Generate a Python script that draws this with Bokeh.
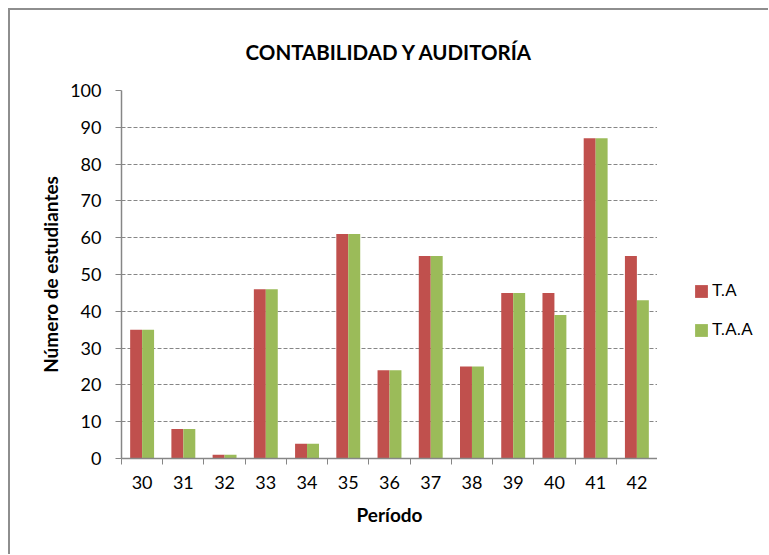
from bokeh.plotting import figure
from bokeh.layouts import row
from bokeh.models import ColumnDataSource, FixedTicker, Range1d, Legend, LegendItem
from bokeh.transform import dodge
from bokeh.embed import file_html
from bokeh.resources import INLINE

periodos = [30, 31, 32, 33, 34, 35, 36, 37, 38, 39, 40, 41, 42]
ta = [35, 8, 1, 46, 4, 61, 24, 55, 25, 45, 45, 87, 55]
taa = [35, 8, 1, 46, 4, 61, 24, 55, 25, 45, 39, 87, 43]
y_ticks = [0, 10, 20, 30, 40, 50, 60, 70, 80, 90, 100]
series_names = ["T.A", "T.A.A"]
series_colors = ["#C0504D", "#9BBB59"]

source = ColumnDataSource(data=dict(periodo=periodos, ta=ta, taa=taa))

FONT = "Lato"
AXIS_GRAY = "#868686"

p = figure(width=647, height=544, output_backend="svg", toolbar_location=None,
           x_range=Range1d(29.5, 42.5), y_range=Range1d(0, 100),
           min_border_left=111, min_border_right=0, min_border_top=80, min_border_bottom=96)
p.outline_line_color = None
p.background_fill_color = "white"

bw = 0.29
r1 = p.vbar(x=dodge("periodo", -bw / 2, range=p.x_range), top="ta", width=bw, source=source,
            fill_color=series_colors[0], line_color=None)
r2 = p.vbar(x=dodge("periodo", bw / 2, range=p.x_range), top="taa", width=bw, source=source,
            fill_color=series_colors[1], line_color=None)

# title
p.title.text = "CONTABILIDAD Y AUDITORÍA"
p.title.align = "center"
p.title.text_font = FONT
p.title.text_font_size = "20.5px"
p.title.text_font_style = "bold"
p.title.text_color = "black"
p.title.standoff = 54

# x axis
xa = p.below[0]
xa.ticker = FixedTicker(ticks=periodos, minor_ticks=[v - 0.5 for v in periodos] + [periodos[-1] + 0.5])
xa.major_tick_out = 0
xa.major_tick_in = 0
xa.minor_tick_out = 6
xa.minor_tick_in = 0
xa.minor_tick_line_color = AXIS_GRAY
xa.axis_line_color = AXIS_GRAY
xa.axis_line_width = 1.5
xa.major_label_text_font = FONT
xa.major_label_text_font_size = "18px"
xa.major_label_text_color = "black"
xa.major_label_standoff = 11
xa.axis_label = "Período"
xa.axis_label_text_font = FONT
xa.axis_label_text_font_size = "19px"
xa.axis_label_text_font_style = "bold"
xa.axis_label_text_color = "black"
xa.axis_label_standoff = 11

# y axis
ya = p.left[0]
ya.ticker = FixedTicker(ticks=y_ticks)
ya.minor_tick_line_color = None
ya.major_tick_out = 6
ya.major_tick_in = 0
ya.major_tick_line_color = AXIS_GRAY
ya.axis_line_color = AXIS_GRAY
ya.axis_line_width = 1.5
ya.major_label_text_font = FONT
ya.major_label_text_font_size = "18px"
ya.major_label_text_color = "black"
ya.major_label_standoff = 14
ya.axis_label = "Número de estudiantes"
ya.axis_label_text_font = FONT
ya.axis_label_text_font_size = "19px"
ya.axis_label_text_font_style = "bold"
ya.axis_label_text_color = "black"
ya.axis_label_standoff = 5

p.xgrid.grid_line_color = None
p.ygrid.ticker = FixedTicker(ticks=y_ticks[1:])
p.ygrid.grid_line_color = AXIS_GRAY
p.ygrid.grid_line_dash = "4 2"
p.ygrid.grid_line_width = 1

# legend panel (separate figure to the right of the plot area; its frame aligns with p's)
q = figure(width=111, height=544, output_backend="svg", toolbar_location=None,
           x_range=Range1d(0, 1), y_range=Range1d(0, 1),
           x_axis_location=None, y_axis_location=None,
           min_border_left=0, min_border_right=0, min_border_top=0, min_border_bottom=0)
q.outline_line_color = None
q.xgrid.grid_line_color = None
q.ygrid.grid_line_color = None
# legend proxies: same data, but outside this panel's visible range
lr1 = q.vbar(x="periodo", top="ta", width=bw, source=source, fill_color=series_colors[0], line_color=None)
lr2 = q.vbar(x="periodo", top="taa", width=bw, source=source, fill_color=series_colors[1], line_color=None)

legend = Legend(items=[LegendItem(label=series_names[0], renderers=[lr1]),
                       LegendItem(label=series_names[1], renderers=[lr2])],
                location=(36, 118))
legend.border_line_color = None
legend.background_fill_alpha = 0
legend.padding = 0
legend.margin = 0
legend.glyph_width = 16
legend.glyph_height = 16
legend.label_height = 16
legend.label_standoff = 3
legend.spacing = 19
legend.label_text_font = "Liberation Sans"
legend.label_text_font_size = "17px"
legend.label_text_color = "black"
q.add_layout(legend, "center")

layout = row(p, q)
layout.styles = {"margin-left": "8px", "margin-top": "8px",
                 "border-left": "2px solid #8e8e8e", "border-top": "2px solid #8e8e8e"}

open("out.html", "w").write(file_html(layout, INLINE))
